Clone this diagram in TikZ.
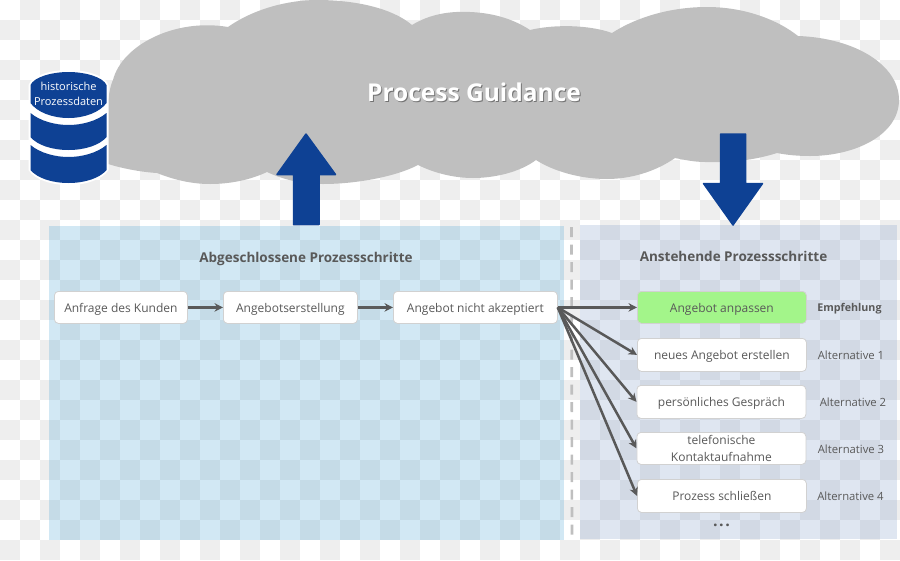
\documentclass[tikz,border=0pt]{standalone}
\usepackage{fontspec}
\setmainfont{Open Sans}
\usetikzlibrary{arrows.meta}
\definecolor{navy}{HTML}{0E4194}
\definecolor{txt}{HTML}{595959}
\definecolor{cloudgray}{HTML}{BFBFBF}
\definecolor{checkgray}{HTML}{EEEEEE}
\definecolor{leftpanel}{RGB}{67,159,209}
\definecolor{rightpanel}{RGB}{122,151,197}
\definecolor{recgreen}{HTML}{A3F58A}
\newcommand{\shadowtext}[1]{\leavevmode\rlap{\kern1pt\raisebox{-1.2pt}{\textcolor{black!55}{#1}}}\textcolor{white}{#1}}
\tikzset{
  stepbox/.style={draw=black!18,line width=0.8pt,fill=white,rounded corners=4pt,text=txt,align=center,
     font=\fontsize{12}{16.5}\selectfont,inner sep=0pt,anchor=north west,text height=10pt,text depth=0pt},
  flow/.style={draw=txt,line width=2.5pt,-{Stealth[length=8.5pt,width=8.5pt]}},
  panel/.style={opacity=.24},
  bigarrow/.style={fill=navy,draw=navy,line width=1.5pt,line join=round},
  title/.style={text=txt,font=\fontsize{13.5}{16}\selectfont\bfseries,text height=10pt,text depth=0pt},
  altlabel/.style={text=txt,font=\fontsize{11.3}{14}\selectfont},
}
\begin{document}
\begin{tikzpicture}[x=1pt,y=-1pt]
\useasboundingbox (0,0) rectangle (900,560);
% checkerboard
\foreach \r in {0,...,27}{\foreach \c in {0,...,44}{
  \ifodd\numexpr\r+\c\relax
    \fill[checkgray] (\c*20,\r*20) rectangle ++(20,20);
  \fi}}
% cloud
\fill[cloudgray] (105,163)
  .. controls (105,120) and (108,90) .. (113,80)
  .. controls (122,45) and (175,18) .. (228,27)
  .. controls (255,8) and (290,0) .. (317,0)
  .. controls (355,0) and (392,8) .. (412,25)
  .. controls (430,14) and (450,11) .. (470,12)
  .. controls (495,13) and (515,20) .. (530,30)
  .. controls (555,24) and (590,25) .. (612,33)
  .. controls (640,15) and (675,7) .. (707,7)
  .. controls (745,7) and (778,20) .. (798,36)
  .. controls (855,38) and (899,65) .. (899,100)
  .. controls (899,135) and (855,156) .. (810,156)
  .. controls (798,156) and (787,155) .. (777,153)
  .. controls (755,160) and (730,163) .. (705,162)
  .. controls (695,162) and (685,160) .. (675,158)
  .. controls (655,172) and (630,179) .. (607,179)
  .. controls (580,179) and (553,171) .. (536,160)
  .. controls (520,172) and (495,178) .. (473,178)
  .. controls (452,178) and (432,172) .. (418,165)
  .. controls (395,177) and (355,184) .. (323,184)
  .. controls (300,184) and (282,179) .. (267,172)
  .. controls (250,180) and (230,184) .. (210,184)
  .. controls (190,184) and (172,179) .. (157,173)
  .. controls (140,172) and (120,168) .. (105,163) -- cycle;
\node[font=\fontsize{24.5}{28}\selectfont\bfseries,inner sep=0pt] (guidance) at (474,93) {\shadowtext{Process Guidance}};
% panels
\fill[leftpanel,panel] (49,226) rectangle (564,540);
\fill[rightpanel,panel] (580,225) rectangle (897,539);
\draw[cloudgray,line width=2.6pt,dash pattern=on 10pt off 7.5pt] (571.5,227) -- (572,540);
% database
\fill[white] (28.5,85) .. controls (32,75) and (52,70) .. (68.5,70) .. controls (85,70) and (105,75) .. (108.5,85)
  -- (108.5,170) .. controls (102,180) and (85,185) .. (68.5,185) .. controls (52,185) and (35,180) .. (28.5,170) -- cycle;
\fill[navy] (30.5,145) .. controls (40,153) and (55,157) .. (68.5,157) .. controls (82,157) and (97,153) .. (106.5,145)
  -- (106.5,170) .. controls (100,178) and (85,183) .. (68.5,183) .. controls (52,183) and (37,178) .. (30.5,170) -- cycle;
\fill[navy] (30.5,113) .. controls (40,121) and (55,125) .. (68.5,125) .. controls (82,125) and (97,121) .. (106.5,113)
  -- (106.5,137) .. controls (100,145) and (85,150) .. (68.5,150) .. controls (52,150) and (37,145) .. (30.5,137) -- cycle;
\fill[navy] (30.5,85) .. controls (34,77) and (52,72) .. (68.5,72) .. controls (85,72) and (103,77) .. (106.5,85)
  -- (106.5,103) .. controls (100,112) and (85,118) .. (68.5,118) .. controls (52,118) and (37,112) .. (30.5,103) -- cycle;
\node[text=white,align=center,font=\fontsize{11}{15.5}\selectfont,inner sep=0pt] (db) at (68.5,94) {historische\\Prozessdaten};
% big arrows
\fill[bigarrow] (306,134) -- (335.5,174.5) -- (319,174.5) -- (319,224.5) -- (293.5,224.5) -- (293.5,174.5) -- (277,174.5) -- cycle;
\fill[bigarrow] (720.5,134) -- (745.5,134) -- (745.5,183.5) -- (762.5,183.5) -- (733,225) -- (703.5,183.5) -- (720.5,183.5) -- cycle;
% titles
\node[title] (ttl) at (306,257) {Abgeschlossene Prozessschritte};
\node[title] (ttr) at (733.5,256.5) {Anstehende Prozessschritte};
% boxes
\node[stepbox,minimum width=133pt,minimum height=32pt] (a1) at (54,291) {Anfrage des Kunden};
\node[stepbox,minimum width=134pt,minimum height=32pt] (a2) at (223,291) {Angebotserstellung};
\node[stepbox,minimum width=164pt,minimum height=32pt] (a3) at (393,291) {Angebot nicht akzeptiert};
\node[stepbox,fill=recgreen,minimum width=169pt,minimum height=32pt] (r0) at (637,291) {Angebot anpassen};
\node[stepbox,minimum width=169pt,minimum height=33pt] (r1) at (637,338) {neues Angebot erstellen};
\node[stepbox,minimum width=169pt,minimum height=33pt] (r2) at (636.5,385) {persönliches Gespräch};
\node[stepbox,minimum width=169pt,minimum height=32pt,text height=,text depth=,font=\fontsize{12}{17}\selectfont] (r3) at (636.5,432) {telefonische\\Kontaktaufnahme};
\node[stepbox,minimum width=169pt,minimum height=33pt] (r4) at (637,479) {Prozess schließen};
% connectors
\draw[flow] (a1) -- (a2);
\draw[flow] (a2) -- (a3);
\draw[flow] (a3.east) -- (r0.west);
\draw[flow] (a3.east) -- (r1.west);
\draw[flow] (a3.east) -- (r2.west);
\draw[flow] (a3.east) -- (r3.west);
\draw[flow] (a3.east) -- (r4.west);
% labels
\node[altlabel,font=\fontsize{10.7}{14}\selectfont\bfseries] (l0) at (849.5,308.5) {Empfehlung};
\node[altlabel] (l1) at (851,355.5) {Alternative 1};
\node[altlabel] (l2) at (853,402) {Alternative 2};
\node[altlabel] (l3) at (851,449) {Alternative 3};
\node[altlabel] (l4) at (850.5,496) {Alternative 4};
\node[text=txt,font=\fontsize{16}{16}\selectfont\bfseries,inner sep=0pt] (more) at (721.5,525) {.\kern1.5pt.\kern1.5pt.};
\end{tikzpicture}
\end{document}
